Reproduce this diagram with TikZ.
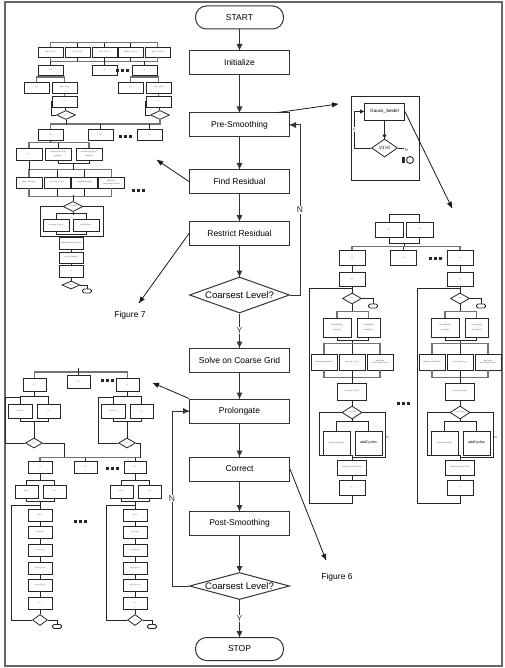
\documentclass[tikz,border=0pt]{standalone}
\usepackage{fontspec}
\setmainfont{Liberation Sans}
\usetikzlibrary{positioning, arrows.meta, decorations.markings, calc, shapes.geometric}

\newcommand{\blockdots}{\rule{3pt}{3pt}\hspace{2pt}\rule{3pt}{3pt}\hspace{2pt}\rule{3pt}{3pt}}

\begin{document}
\begin{tikzpicture}[%
		x=1pt, y=-1pt,
		process/.style={
			rectangle,
			minimum width=100pt,
			minimum height=24pt,
			line width=1pt,
			draw=black!80,
			font=\fontsize{8.5}{10}\selectfont
		},
		terminal/.style={
			process,
			rounded corners=11pt,
			minimum width=88pt,
			minimum height=23pt
		},
		decision/.style={
			diamond,
			aspect=3.7,
			inner sep=0pt,
			minimum width=100pt,
			line width=1pt,
			draw=black!80,
			font=\fontsize{9.5}{11}\selectfont
		},
		minibox/.style={
			rectangle,
			minimum width=25pt,
			minimum height=11pt,
			inner sep=0.3pt,
			line width=0.8pt,
			draw=black!85,
			text=black!65,
			align=center,
			font=\fontsize{1.9}{2.2}\selectfont
		},
		minidec/.style={
			diamond,
			inner sep=0pt,
			line width=0.8pt,
			draw=black!85,
			text=black!65,
			font=\fontsize{1.9}{2.2}\selectfont
		},
		miniend/.style={
			rectangle,
			rounded corners=1.5pt,
			minimum width=9pt,
			minimum height=4pt,
			inner sep=0pt,
			line width=0.8pt,
			draw=black!85
		},
		dotrow/.style={
			inner sep=0pt,
			black!85
		},
		figlabel/.style={
			font=\fontsize{8.5}{10}\selectfont
		},
		branch/.style={
			fill=white,
			inner sep=1pt,
			font=\fontsize{8.5}{10}\selectfont
		},
		link/.style={
			line width=0.7pt,
			black!85
		},
		bus/.style={
			line width=1.4pt,
			black!55
		},
		flowarrow/.style={
			line width=1pt,
			black!80,
			decoration={markings,mark=at position 1 with {\arrow{Triangle[length=6pt,width=5.5pt]}}},
			postaction={decorate}
		},
		sidearrow/.style={
			line width=0.8pt,
			black!90,
			decoration={markings,mark=at position 1 with {\arrow{Triangle[length=6pt,width=5pt]}}},
			postaction={decorate}
		},
		thinarrow/.style={
			line width=0.8pt,
			black!85,
			decoration={markings,mark=at position 1 with {\arrow{Triangle[length=4pt,width=4pt]}}},
			postaction={decorate}
		}]

		\useasboundingbox (0,0) rectangle (505,668);
		\draw[black!60, line width=1.6pt] (5,2) rectangle (502,666);

		% MAIN FLOW

		\node (start) [terminal] at (239.5,17.5) {START};
		\node (init) [process] at (239.5,62.5) {Initialize};
		\node (presm) [process] at (239.5,125) {Pre-Smoothing};
		\node (findres) [process] at (239.5,181.5) {Find Residual};
		\node (restr) [process] at (239.5,233.5) {Restrict Residual};
		\node (coarse1) [decision, minimum height=36pt] at (239.5,295) {Coarsest Level?};
		\node (solve) [process] at (239.5,360) {Solve on Coarse Grid};
		\node (prolong) [process] at (239.5,411) {Prolongate};
		\node (correct) [process] at (239.5,469) {Correct};
		\node (postsm) [process] at (239.5,523.5) {Post-Smoothing};
		\node (coarse2) [decision, minimum height=27pt] at (239.5,586) {Coarsest Level?};
		\node (stop) [terminal] at (239.5,649) {STOP};

		% MAIN FLOW LINES

		\draw[flowarrow] (start) -- (init);
		\draw[flowarrow] (init) -- (presm);
		\draw[flowarrow] (presm) -- (findres);
		\draw[flowarrow] (findres) -- (restr);
		\draw[flowarrow] (restr) -- (coarse1);
		\draw[flowarrow] (coarse1) -- node[branch] {Y} (solve);
		\draw[flowarrow] (coarse1.east) -- ++(10,0) |- node[branch, pos=0.25] {N} (presm.east);
		\draw[flowarrow] (solve) -- (prolong);
		\draw[flowarrow] (prolong) -- (correct);
		\draw[flowarrow] (correct) -- (postsm);
		\draw[flowarrow] (postsm) -- (coarse2);
		\draw[flowarrow] (coarse2.west) -- ++(-17,0) |- node[branch, pos=0.25] {N} (prolong.west);
		\draw[flowarrow] (coarse2) -- node[branch] {Y} (stop);

		% GAUSS-SEIDEL

		\node (gsframe) [rectangle, draw=black!85, line width=0.9pt, minimum width=68pt, minimum height=84pt] at (385,138) {};
		\node (gauss) [minibox, minimum width=40pt, minimum height=17pt, text=black, font=\fontsize{4.6}{5}\selectfont] at (384.5,111.5) {Gauss\_Seidel};
		\node (vcheck) [minidec, minimum width=26pt, minimum height=18pt, text=black, font=\fontsize{4.6}{5}\selectfont] at (384.5,148) {V1>0};
		\node (gsmark) [rectangle, fill=black!85, minimum width=2.5pt, minimum height=6pt, inner sep=0pt] at (403.5,160) {};
		\node (gsstop) [circle, draw=black!85, line width=0.9pt, minimum size=7pt, inner sep=0pt] at (410,160) {};
		\draw[thinarrow] (gauss) -- (vcheck);
		\draw[thinarrow] (vcheck.west) -- ++(-17,0) |- node[branch, pos=0.25, font=\fontsize{4}{5}\selectfont] {Y} (gauss.west);
		\draw[link] (vcheck.east) -- ++(6,0) node[below right=0pt, inner sep=0.5pt, font=\fontsize{4}{5}\selectfont] {N};

		\coordinate (gsin) at (338,104);
		\coordinate (rtop) at (452,208);
		\draw[sidearrow] (presm.18) -- (gsin);
		\draw[sidearrow] (gauss.east) -- (rtop);

		% FIGURE 7 (TOP LEFT)

		\foreach \n/\x/\t in {1/50.5/{ioff = (0,0,0)}, 2/77.5/{ioff = (1,0,0)}, 3/104.5/{ioff = (0,1,0)}, 4/130.5/{ioffNext = (0,0,0)}, 5/157.5/{iNext = (0,0,0)}}
			\node (toff\n) [minibox, minimum height=10pt] at (\x,52) {\t};
		\draw[bus] (toff1.north) -- ++(0,-4) -| (toff5.north);
		\foreach \n in {2,3,4}
			\draw[link] (toff\n.north) -- ++(0,-4);
		\draw[bus] (toff1.south) -- ++(0,4) -| (toff5.south);
		\foreach \n in {2,3,4}
			\draw[link] (toff\n.south) -- ++(0,4);

		\node (ta1) [minibox, minimum height=10pt] at (50.5,70) {i=1};
		\node (ta2) [minibox, minimum height=10pt] at (104.5,70) {i=2};
		\node (taL) [minibox, minimum height=10pt] at (144.5,70) {i=L};
		\node (tadots) [dotrow] at (122,71) {\blockdots};
		\foreach \n in {ta1,ta2,taL}
			\draw[link] (\n.north) -- ++(0,-4);

		\foreach \c/\dx/\ib/\jl in {a/0/ta1/{j=1}, b/94/taL/{j=L}}{
			\begin{scope}[xshift=\dx]
				\node (tj\c) [minibox] at (36.5,87.5) {\jl};
				\node (trb\c) [minibox] at (64.5,87.5) {rbtp = rhs(j)};
				\node (tjp\c) [minibox] at (65,101.5) {j++};
				\node (tjd\c) [minidec, minimum width=19pt, minimum height=9pt] at (66,115) {j<=L};
			\end{scope}
			\draw[link] (\ib.south) -- ++(0,3);
			\draw[bus] (tj\c.north) -- ++(0,-4.5) -| (trb\c.north);
			\draw[link] (trb\c) -- (tjp\c);
			\draw[link] (tjp\c) -- (tjd\c);
			\draw[link] (tjd\c.west) -- ++(-5,0) |- (tjp\c.west);
		}

		\node (tb1) [minibox] at (50.5,134.5) {i=1};
		\node (tb2) [minibox] at (100.5,134.5) {i=2};
		\node (tbL) [minibox] at (149.5,134.5) {i=L};
		\node (tbdots) [dotrow] at (125,137) {\blockdots};
		\draw[bus] (tb1.north) -- ++(0,-4.5) -| (tjdb.south);
		\draw[link] (tjda.south) -- ++(0,5.5);
		\draw[link] (tb2.north) -- ++(0,-4.5);
		\draw[link] (tbL.north) -- ++(0,-4.5);

		\node (tj2) [minibox, minimum width=26pt, minimum height=12pt] at (29,154) {j=1};
		\node (tsq1) [minibox, minimum width=26pt, minimum height=12pt] at (58,154) {sqTmp=hrhs(i+1)[j]\\=\\rpfrm(i)[j]};
		\node (tsq2) [minibox, minimum width=26pt, minimum height=12pt] at (89,154) {sqTmp=hrhs(i)[j+1]\\=\\rpfrm(i)[j]};
		\draw[link] (tb1.south) -- ++(0,3);
		\draw[bus] (tj2.north) -- ++(0,-5) -| (tsq2.north);
		\draw[link] (tsq1.north) -- ++(0,-5);
		\draw[link] (tsq1.south) -- ++(0,3) -| (tsq2.south);

		\foreach \n/\x/\t in {1/29/{rgtd = sqTmp(j)}, 2/57/{sq\_h=sq\_h*sq\_n}, 3/84.5/{rsqTmp=hrhs(i)[j]}, 4/111.5/{addCycles\\(matrixMap2,cycles)}}
			\node (tr\n) [minibox, minimum width=26pt] at (\x,182.5) {\t};
		\draw[bus] (tr1.north) -- ++(0,-7) -| (tr4.north);
		\foreach \n in {2,3}
			\draw[link] (tr\n.north) -- ++(0,-7);
		\draw[link] (tj2.south) -- ++(0,10);
		\draw[link] (tsq1.south) ++(15.5,3) -- ++(0,7);
		\draw[bus] (tr1.south) -- ++(0,8) -| (tr4.south);
		\foreach \n in {2,3}
			\draw[link] (tr\n.south) -- ++(0,8);
		\node (trdots) [dotrow] at (138,191) {\blockdots};

		\node (tcd) [minidec, minimum width=20pt, minimum height=9pt] at (73,206.5) {j<=Cycles};
		\node (tin1) [minibox, minimum width=26pt, minimum height=12pt] at (56,225) {temp=sq\_h*sq\_h};
		\node (tin2) [minibox, minimum width=26pt, minimum height=12pt] at (86.5,225) {addCycles(...)};
		\node (tsum) [minibox, minimum width=24pt, minimum height=12pt] at (71,243) {sqRes=sqRes+sqTmp(j)};
		\node (tres) [minibox, minimum width=24pt] at (71,257.5) {r(i)=r(i)+sqRes(j)};
		\node (tinc) [minibox, minimum width=24pt, minimum height=12pt] at (71,271) {j++};
		\node (tend) [minidec, minimum width=18pt, minimum height=8pt] at (71,285) {j<=L};
		\node (tstop) [miniend] at (87,291) {};
		\draw[link] (tcd.north) -- ++(0,-6);
		\draw[link] (tcd.south) -- ++(0,3);
		\draw[link] (tin1.north) -- ++(0,-5) -| (tin2.north);
		\draw[link] (tin1.south) -- ++(0,3) -| (tin2.south);
		\draw[link] (tcd.west) -- ++(-22,0) -- ++(0,29.5) -- ++(30,0);
		\draw[link] (tcd.east) -- ++(20,0) -- ++(0,29.5) -- ++(-32,0);
		\draw[link] (tsum) -- (tres);
		\draw[link] (tres) -- (tinc);
		\draw[link] (tinc) -- (tend);
		\draw[link] (tend.east) -| (tstop.north);

		\node (fig7) [figlabel] at (130,315) {Figure 7};
		\coordinate (fig7top) at (157,160);
		\coordinate (fig7tip) at (139,303);
		\draw[sidearrow] (findres.west) -- (fig7top);
		\draw[sidearrow] (restr.west) -- (fig7tip);

		% FIGURE 6 (RIGHT)

		\node (ri1) [minibox, minimum width=28pt, minimum height=15pt] at (389,229.5) {i=1};
		\node (rj1) [minibox, minimum width=27pt, minimum height=15pt] at (419.5,229.5) {j=1};
		\draw[link] (ri1.north) -- ++(0,-7) -| (rj1.north);
		\draw[link] (ri1.south) -- ++(0,6) -| (rj1.south);
		\draw[link] (ri1.south) ++(15,6) -- ++(0,4);

		\node (rA1) [minibox, minimum width=26pt, minimum height=15pt] at (352,257.5) {i=1};
		\node (rA2) [minibox, minimum width=26pt, minimum height=15pt] at (403.5,257.5) {i=2};
		\node (rAL) [minibox, minimum width=26pt, minimum height=15pt] at (460,257.5) {i=L};
		\node (radots) [dotrow] at (435,258) {\blockdots};
		\draw[bus] (rA1.north) -- ++(0,-3) -| (rAL.north);
		\draw[link] (rA2.north) -- ++(0,-3);

		\foreach \c/\dx/\ib/\jl in {a/0/rA1/{j=1}, b/108/rAL/{j=L}}{
			\begin{scope}[xshift=\dx]
				\node (rj\c) [minibox, minimum width=26pt, minimum height=14pt] at (352,279) {\jl};
				\node (rjd\c) [minidec, minimum width=19pt, minimum height=11pt] at (352,298.5) {j<=L};
				\node (rstop\c) [miniend] at (373,306) {};
				\node (ral\c) [minibox, minimum width=28pt, minimum height=19pt] at (337,327.5) {tan=alfaN(i)[j]\\=\\prfrm(i)[j]};
				\node (rbe\c) [minibox, minimum width=23pt, minimum height=19pt] at (368.5,327.5) {tan=beN(i)[j]\\=\\prfrm(i)[j+1]};
				\node (rc1\c) [minibox, minimum width=26pt, minimum height=16pt] at (324,362) {cpfNext(matrixMap2)};
				\node (rc2\c) [minibox, minimum width=26pt, minimum height=16pt] at (352,362) {sq\_h=sq\_h*sq\_n};
				\node (rc3\c) [minibox, minimum width=26pt, minimum height=16pt] at (380,362) {addCycles\\(matrixMap2,cycles)};
				\node (rtmp\c) [minibox, minimum width=29pt, minimum height=17pt] at (352,391.5) {temp=sq\_h*m(i)2};
				\node (rcd\c) [minidec, minimum width=20pt, minimum height=13pt] at (352,412.5) {j<=Cycles};
				\node (rin\c) [minibox, minimum width=27pt, minimum height=24pt] at (336.5,443) {tmpA=cpfNext(i)[j]};
				\node (radd\c) [minibox, minimum width=27pt, minimum height=24pt, text=black, font=\fontsize{3.6}{4}\selectfont] at (368.5,443) {addCycles};
				\node (rpcf\c) [minibox, minimum width=29pt, minimum height=15pt] at (352,467.5) {pcfNext(j)=rowPT*tuler};
				\node (rjp\c) [minibox, minimum width=26pt, minimum height=15pt] at (352,487.5) {j++};
			\end{scope}
			\draw[link] (\ib) -- (rj\c);
			\draw[link] (rj\c) -- (rjd\c);
			\draw[link] (rjd\c.east) -| (rstop\c.north);
			\draw[link] (rjd\c.south) -- ++(0,8);
			\draw[bus] (ral\c.north) -- ++(0,-6) -| (rbe\c.north);
			\draw[link] (ral\c.south) -- ++(0,3) -| (rbe\c.south);
			\draw[link] (rc2\c.north) -- ++(0,-14);
			\draw[bus] (rc1\c.north) -- ++(0,-10) -| (rc3\c.north);
			\draw[bus] (rc1\c.south) -- ++(0,7) -| (rc3\c.south);
			\draw[link] (rc2\c.south) -- (rtmp\c.north);
			\draw[link] (rtmp\c) -- (rcd\c);
			\draw[link] (rcd\c.south) -- ++(0,3);
			\draw[link] (rin\c.north) -- ++(0,-9) -| (radd\c.north);
			\draw[link] (rcd\c.west) -- ++(-22,0) -- ++(0,42.5) -- ++(32,0);
			\draw[link] (rcd\c.east) -- ++(23,0) -- ++(0,44.5) node[pos=0.57, right, inner sep=0.8pt, font=\fontsize{3}{3.5}\selectfont] {N} -- ++(-33,0);
			\draw[link] (rpcf\c.north) -- ++(0,-5);
			\draw[link] (rpcf\c) -- (rjp\c);
			\draw[link] (rjp\c.south) -- ++(0,8) -- ++(-43,0) -- ++(0,-215) -- ++(43,0);
		}
		\node (rdots) [dotrow] at (403,403) {\blockdots};

		\node (fig6) [figlabel] at (337,577) {Figure 6};
		\coordinate (fig6tip) at (326,560);
		\draw[sidearrow] (correct.east) -- (fig6tip);

		% PROLONGATE (BOTTOM LEFT)

		\node (bx1) [minibox, minimum width=23pt, minimum height=13pt] at (34.5,384.5) {x1};
		\node (bx2) [minibox, minimum width=23pt, minimum height=13pt] at (78.5,381.5) {x2};
		\node (bxL) [minibox, minimum width=23pt, minimum height=13pt] at (127.5,384.5) {xL};
		\node (bxdots) [dotrow] at (107,380) {\blockdots};
		\draw[bus] (bx1.north) -- ++(0,-5.5) -| (bxL.north);
		\draw[link] (bx2.north) -- ++(0,-6.5);

		\coordinate (prtip) at (153,383);
		\draw[sidearrow] (prolong.north west) -- (prtip);

		\foreach \c/\dx/\xb/\ex in {a/0/bx1/21, b/93/bxL/4}{
			\begin{scope}[xshift=\dx]
				\node (bv\c) [minibox, minimum width=24pt, minimum height=14pt] at (20,411) {vi(j)=0.0};
				\node (bp\c) [minibox, minimum width=23pt, minimum height=14pt] at (48.5,411) {j++};
				\node (bd\c) [minidec, minimum width=17pt, minimum height=10pt] at (34,443) {j<=L};
			\end{scope}
			\draw[link] (\xb.south) -- ++(0,6);
			\draw[link] (bv\c.north) -- ++(0,-7) -| (bp\c.north);
			\draw[link] (bv\c.south) -- ++(0,3) -| (bp\c.south);
			\draw[link] (bd\c.north) -- ++(0,-17);
			\draw[link] (bd\c.west) -- ++(-19.5,0) -- ++(0,-46) -- ++(14,0);
			\draw[link] (bd\c.east) -- ++(\ex,0) -- ++(0,15);
		}

		\node (bu1) [minibox, minimum width=24pt, minimum height=12pt] at (40,467) {x1};
		\node (bu2) [minibox, minimum width=23pt, minimum height=12pt] at (85.5,467) {x2};
		\node (buL) [minibox, minimum width=22pt, minimum height=12pt] at (135,467) {xL};
		\node (budots) [dotrow] at (112,468) {\blockdots};
		\draw[bus] (bu1.north) -- ++(0,-3) -- ++(99.5,0);
		\foreach \n in {bu2,buL}
			\draw[link] (\n.north) -- ++(0,-3);

		\foreach \c/\dx/\ub in {a/0/bu1, b/95/buL}{
			\begin{scope}[xshift=\dx]
				\node (bq\c) [minibox, minimum width=23pt, minimum height=13pt] at (26.5,491.5) {u(i)=1};
				\node (bk\c) [minibox, minimum width=23pt, minimum height=13pt] at (54.5,491.5) {j=1};
				\foreach \k/\y/\t in {1/515.5/{u(i)=1}, 2/532.5/{vi(j)=vi(j)}, 3/550.5/{vi=vi(j)+v(j)}, 4/568/{vi(j)=r(j)+v(j)}, 5/585.5/{vi(j)+vi(j)+v(j)}, 6/603.5/{j++}}
					\node (bs\c\k) [minibox, minimum width=24pt, minimum height=12pt] at (40,\y) {\t};
				\node (be\c) [minidec, minimum width=15pt, minimum height=11pt] at (40,620) {j<=L};
				\node (bstop\c) [miniend] at (57,626.5) {};
			\end{scope}
			\draw[link] (\ub.south) -- ++(0,8);
			\draw[link] (bq\c.north) -- ++(0,-4.5) -| (bk\c.north);
			\draw[link] (bq\c.south) -- ++(0,3) -| (bk\c.south);
			\draw[link] (bs\c1.north) -- ++(0,-8.5);
			\foreach \k [count=\kn from 2] in {1,...,5}
				\draw[link] (bs\c\k) -- (bs\c\kn);
			\draw[link] (bs\c6) -- (be\c);
			\draw[link] (be\c.east) -| (bstop\c.north);
			\draw[link] (be\c.west) -- ++(-20.5,0) -- ++(0,-115) -- ++(28,0);
		}
		\node (bdots) [dotrow] at (80,521) {\blockdots};
\end{tikzpicture}
\end{document}
